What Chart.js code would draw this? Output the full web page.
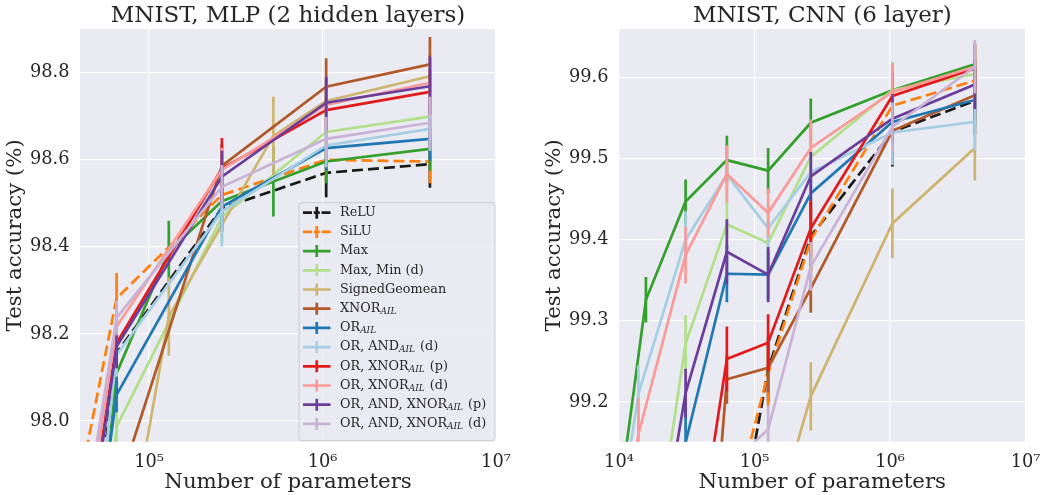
<!DOCTYPE html>
<html><head><meta charset="utf-8">
<script src="https://cdn.jsdelivr.net/npm/chart.js@4.4.1/dist/chart.umd.min.js"></script>
<style>
html,body{margin:0;padding:0;background:#fff;}
#wrap{position:relative;width:1051px;height:495px;overflow:hidden;}
canvas{position:absolute;top:0;}
</style></head><body>
<div id="wrap">
<canvas id="c1" width="525" height="495" style="left:0;width:525px;height:495px"></canvas>
<canvas id="c2" width="526" height="495" style="left:525px;width:526px;height:495px"></canvas>
</div>
<script>
// ---------------- DATA ----------------
const SERIES = ['ReLU','SiLU','Max','Max, Min (d)','SignedGeomean','XNOR_AIL','OR_AIL',
  'OR, AND_AIL (d)','OR, XNOR_AIL (p)','OR, XNOR_AIL (d)','OR, AND, XNOR_AIL (p)','OR, AND, XNOR_AIL (d)'];

const MLP_TITLE = 'MNIST, MLP (2 hidden layers)';
const CNN_TITLE = 'MNIST, CNN (6 layer)';
const X_TITLE = 'Number of parameters';
const Y_TITLE = 'Test accuracy (%)';

const MLP_XTICKS = [1e5, 1e6, 1e7];
const CNN_XTICKS = [1e4, 1e5, 1e6, 1e7];
const MLP_YTICKS = [98.0, 98.2, 98.4, 98.6, 98.8];
const CNN_YTICKS = [99.2, 99.3, 99.4, 99.5, 99.6];

// number of parameters (x) for MLP
const MLP_PARAMS = [32500, 65000, 130000, 263000, 521000, 1050000, 4160000];
// test accuracy per series (rows follow SERIES)
const MLP_ACC = [
  [97.16, 98.156, null, 98.489, null, 98.570, 98.590],
  [97.68, 98.282, null, 98.519, null, 98.600, 98.596],
  [96.885, 98.110, 98.39, 98.505, 98.55, 98.596, 98.625],
  [96.93, 97.987, null, 98.469, null, 98.664, 98.699],
  [null, 97.556, 98.24, null, 98.655, 98.735, 98.792],
  [null, 97.835, null, 98.586, null, 98.768, 98.819],
  [97.16, 98.060, null, 98.492, null, 98.627, 98.648],
  [97.08, 98.152, null, 98.481, null, 98.633, 98.671],
  [97.373, 98.179, null, 98.580, null, 98.714, 98.756],
  [97.436, 98.217, null, 98.577, null, 98.726, 98.777],
  [97.338, 98.171, null, 98.561, null, 98.731, 98.769],
  [97.482, 98.237, null, 98.538, null, 98.648, 98.685]
];
const MLP_ERR = [
  [0.05, 0.054, null, 0.055, null, 0.056, 0.054],
  [0.05, 0.058, null, 0.05, null, 0.05, 0.05],
  [0.05, 0.05, 0.07, 0.05, 0.08, 0.05, 0.05],
  [0.05, 0.05, null, 0.06, null, 0.05, 0.05],
  [null, 0.05, 0.09, null, 0.09, 0.05, 0.05],
  [null, 0.05, null, 0.05, null, 0.065, 0.063],
  [0.05, 0.04, null, 0.05, null, 0.05, 0.05],
  [0.05, 0.05, null, 0.08, null, 0.05, 0.05],
  [0.05, 0.05, null, 0.07, null, 0.05, 0.05],
  [0.05, 0.05, null, 0.05, null, 0.05, 0.05],
  [0.05, 0.05, null, 0.06, null, 0.06, 0.068],
  [0.05, 0.04, null, 0.05, null, 0.05, 0.06]
];

// number of parameters (x) for CNN
const CNN_PARAMS = [7850, 13900, 15800, 31000, 62500, 126000, 260000, 1040000, 4220000];
const CNN_ACC = [
  [null, null, null, null, 98.96, 99.240, 99.404, 99.533, 99.571],
  [null, null, null, null, 99.04, 99.235, 99.400, 99.565, 99.596],
  [98.946, null, 99.326, 99.447, 99.498, 99.485, 99.544, 99.584, 99.616],
  [null, null, 98.944, 99.272, 99.419, 99.396, 99.502, 99.584, 99.604],
  [null, null, null, null, null, 99.025, 99.207, 99.420, 99.513],
  [null, null, null, 98.6, 99.228, 99.242, 99.34, 99.534, 99.578],
  [null, null, null, 99.15, 99.358, 99.357, 99.457, 99.545, 99.572],
  [98.937, 99.21, null, 99.40, 99.480, 99.414, 99.483, 99.532, 99.545],
  [null, null, null, 98.922, 99.253, 99.273, 99.414, 99.577, 99.611],
  [98.9, 99.16, null, 99.381, 99.481, 99.433, 99.513, 99.582, 99.613],
  [null, null, 98.922, 99.211, 99.385, 99.357, 99.478, 99.549, 99.591],
  [null, null, null, null, 99.12, 99.166, 99.367, 99.539, 99.613]
];
const CNN_ERR = [
  [null, null, null, null, 0.04, 0.04, 0.042, 0.043, 0.042],
  [null, null, null, null, 0.04, 0.04, 0.04, 0.035, 0.03],
  [0.03, null, 0.028, 0.027, 0.03, 0.028, 0.03, 0.034, 0.025],
  [null, null, 0.03, 0.035, 0.03, 0.03, 0.03, 0.035, 0.03],
  [null, null, null, null, null, 0.04, 0.042, 0.043, 0.04],
  [null, null, null, 0.04, 0.03, 0.03, 0.03, 0.03, 0.03],
  [null, null, null, 0.055, 0.035, 0.03, 0.03, 0.03, 0.03],
  [0.03, 0.035, null, 0.035, 0.03, 0.03, 0.03, 0.04, 0.035],
  [null, null, null, 0.04, 0.04, 0.035, 0.035, 0.03, 0.03],
  [0.04, 0.045, null, 0.035, 0.035, 0.03, 0.035, 0.035, 0.03],
  [null, null, 0.03, 0.03, 0.04, 0.034, 0.03, 0.03, 0.03],
  [null, null, null, null, 0.03, 0.03, 0.03, 0.03, 0.033]
];

// ---------------- STYLE ----------------
const COLORS = ['#1a1a1a','#ff7f0e','#33a02c','#b2df8a','#cdb56f','#b15928','#1f78b4',
  '#a6cee3','#e31a1c','#fb9a99','#6a3d9a','#cab2d6'];
const DASHED = [true,true,false,false,false,false,false,false,false,false,false,false];
const FONT = '"DejaVu Serif", serif';
const TEXT_COLOR = '#262626';
const LINE_W = 2.7;

Chart.defaults.font.family = FONT;
Chart.defaults.color = TEXT_COLOR;

const SUP = {'0':'⁰','1':'¹','2':'²','3':'³','4':'⁴','5':'⁵','6':'⁶','7':'⁷','8':'⁸','9':'⁹'};
function powLabel(v){ const e = String(Math.round(Math.log10(v))); return '10' + e.split('').map(c=>SUP[c]).join(''); }

function buildDatasets(params, acc, err){
  return SERIES.map((name, i) => ({
    label: name,
    data: params.map((x, j) => ({x: x, y: acc[i][j], e: err[i][j]})).filter(p => p.y !== null),
    borderColor: COLORS[i],
    backgroundColor: COLORS[i],
    borderWidth: LINE_W,
    borderDash: DASHED[i] ? [11, 5] : [],
    pointRadius: 0,
    pointHoverRadius: 0,
    fill: false,
    tension: 0,
    order: SERIES.length - i
  }));
}

const bgPlugin = {
  id: 'areaBg',
  beforeDraw(chart){
    const {ctx, chartArea: a} = chart;
    ctx.save(); ctx.fillStyle = '#eaeaf2';
    ctx.fillRect(a.left, a.top, a.right - a.left, a.bottom - a.top);
    ctx.restore();
  }
};

const errPlugin = {
  id: 'errbars',
  afterDatasetDraw(chart, args){
    const ds = chart.data.datasets[args.index];
    const meta = args.meta;
    const ctx = chart.ctx, a = chart.chartArea, ys = chart.scales.y;
    ctx.save();
    ctx.beginPath(); ctx.rect(a.left, a.top, a.right - a.left, a.bottom - a.top); ctx.clip();
    ctx.strokeStyle = ds.borderColor; ctx.lineWidth = LINE_W; ctx.setLineDash([]); ctx.lineCap = 'butt';
    meta.data.forEach((el, i) => {
      const p = ds.data[i];
      if (p.e === null || p.e === undefined) return;
      const y1 = ys.getPixelForValue(p.y - p.e), y2 = ys.getPixelForValue(p.y + p.e);
      ctx.beginPath(); ctx.moveTo(el.x, y1); ctx.lineTo(el.x, y2); ctx.stroke();
    });
    ctx.restore();
  }
};

const titlePlugin = {
  id: 'panelTitle',
  afterDraw(chart, args, opts){
    const {ctx, chartArea: a} = chart;
    ctx.save();
    ctx.font = '23px ' + FONT; ctx.fillStyle = TEXT_COLOR;
    ctx.textAlign = 'center'; ctx.textBaseline = 'alphabetic';
    ctx.fillText(opts.text, (a.left + a.right) / 2, 21.5);
    ctx.restore();
  }
};

function drawLabel(ctx, x, y, label, fs){
  const parts = label.split('_AIL');
  ctx.font = fs + 'px ' + FONT;
  ctx.fillText(parts[0], x, y);
  if (parts.length < 2) return;
  let xx = x + ctx.measureText(parts[0]).width;
  ctx.font = 'italic ' + (fs * 0.7) + 'px ' + FONT;
  ctx.fillText('AIL', xx, y + 3);
  xx += ctx.measureText('AIL').width + 1;
  ctx.font = fs + 'px ' + FONT;
  ctx.fillText(parts[1], xx, y);
}

const legendPlugin = {
  id: 'errLegend',
  afterDatasetsDraw(chart, args, opts){
    if (!opts.show) return;
    const ctx = chart.ctx, a = chart.chartArea;
    const w = 196, h = 238;
    const bx = a.right - 1 - w, by = a.bottom - 1 - h;
    ctx.save();
    ctx.beginPath();
    if (ctx.roundRect) ctx.roundRect(bx, by, w, h, 3); else ctx.rect(bx, by, w, h);
    ctx.fillStyle = 'rgba(234,234,242,0.8)'; ctx.fill();
    ctx.strokeStyle = '#cccccc'; ctx.lineWidth = 1; ctx.stroke();
    const step = 19.2;
    SERIES.forEach((name, i) => {
      const cy = by + 10 + i * step;
      const x0 = bx + 4, x1 = bx + 31.5, xm = (x0 + x1) / 2;
      ctx.strokeStyle = COLORS[i]; ctx.lineWidth = LINE_W; ctx.setLineDash([]);
      ctx.beginPath();
      if (DASHED[i]) {
        ctx.moveTo(x0, cy); ctx.lineTo(x0 + 9, cy);
        ctx.moveTo(x1 - 9, cy); ctx.lineTo(x1, cy);
        ctx.moveTo(xm - 3, cy); ctx.lineTo(xm + 3, cy);
      } else {
        ctx.moveTo(x0, cy); ctx.lineTo(x1, cy);
      }
      ctx.moveTo(xm, cy - 6); ctx.lineTo(xm, cy + 6);
      ctx.stroke();
      ctx.fillStyle = TEXT_COLOR; ctx.textAlign = 'left'; ctx.textBaseline = 'middle';
      drawLabel(ctx, bx + 41, cy, name, 12.8);
    });
    ctx.restore();
  }
};

function makeChart(id, p){
  const W = p.width;
  return new Chart(document.getElementById(id), {
    type: 'line',
    data: { datasets: buildDatasets(p.params, p.acc, p.err) },
    plugins: [bgPlugin, errPlugin, legendPlugin, titlePlugin],
    options: {
      responsive: false, animation: false, devicePixelRatio: 1,
      layout: { padding: { top: 29, left: 0, bottom: 0, right: W - p.areaRight } },
      plugins: {
        legend: { display: false }, tooltip: { enabled: false }, title: { display: false },
        errLegend: { show: p.legend }, panelTitle: { text: p.title }
      },
      scales: {
        x: {
          type: 'logarithmic', min: p.xmin, max: p.xmax,
          afterBuildTicks: s => { s.ticks = p.xticks.map(v => ({value: v})); },
          afterFit: s => { s.height = 53.3; },
          ticks: { callback: v => powLabel(v), font: { size: 17.8 }, padding: 10.5, maxRotation: 0, autoSkip: false, color: TEXT_COLOR },
          grid: { color: '#ffffff', lineWidth: 1.2, drawTicks: false },
          border: { display: false },
          title: { display: true, text: X_TITLE, font: { size: 21.3 }, padding: { top: 0, bottom: 0 }, color: TEXT_COLOR }
        },
        y: {
          type: 'linear', min: p.ymin, max: p.ymax,
          afterBuildTicks: s => { s.ticks = p.yticks.map(v => ({value: v})); },
          afterFit: s => { s.width = p.areaLeft; },
          ticks: { callback: v => v.toFixed(1), font: { size: 17.8 }, padding: 10.5, color: TEXT_COLOR },
          grid: { color: '#ffffff', lineWidth: 1.2, drawTicks: false },
          border: { display: false },
          title: { display: true, text: Y_TITLE, font: { size: 21.3 }, padding: { top: p.yTitlePad, bottom: 0 }, color: TEXT_COLOR }
        }
      }
    }
  });
}

makeChart('c1', {
  width: 525, areaLeft: 80, areaRight: 496,
  params: MLP_PARAMS, acc: MLP_ACC, err: MLP_ERR,
  xmin: 4e4, xmax: 1e7, ymin: 97.9525, ymax: 98.9004,
  xticks: MLP_XTICKS, yticks: MLP_YTICKS, title: MLP_TITLE, legend: true, yTitlePad: 3
});
makeChart('c2', {
  width: 526, areaLeft: 94, areaRight: 509,
  params: CNN_PARAMS, acc: CNN_ACC, err: CNN_ERR,
  xmin: 1e4, xmax: 1e7, ymin: 99.1511, ymax: 99.6595,
  xticks: CNN_XTICKS, yticks: CNN_YTICKS, title: CNN_TITLE, legend: false, yTitlePad: 17
});
</script>
</body></html>
